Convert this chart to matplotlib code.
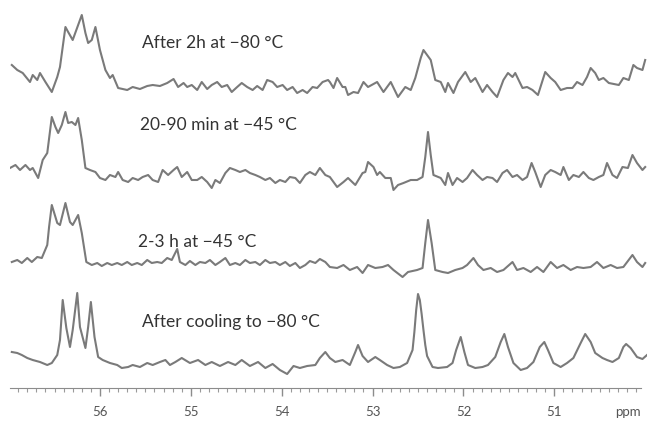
import numpy as np
import matplotlib.pyplot as plt
from matplotlib.ticker import FixedLocator

plt.rcParams['font.family'] = ['Lato', 'DejaVu Sans']

# 13C spectra, chemical shift (ppm) and intensity relative to each baseline
ppm_80_2h = [56.97, 56.91, 56.85, 56.77, 56.74, 56.69, 56.66, 56.60, 56.53, 56.47,
             56.44, 56.38, 56.35, 56.30, 56.24, 56.20, 56.16, 56.13, 56.09, 56.05,
             56.00, 55.94, 55.89, 55.86, 55.80, 55.70, 55.64, 55.56, 55.48, 55.42,
             55.34, 55.26, 55.19, 55.14, 55.08, 55.04, 54.99, 54.93, 54.88, 54.82,
             54.77, 54.71, 54.66, 54.60, 54.55, 54.49, 54.44, 54.38, 54.32, 54.27,
             54.21, 54.16, 54.10, 54.05, 53.99, 53.94, 53.88, 53.83, 53.77, 53.72,
             53.66, 53.61, 53.55, 53.49, 53.47, 53.43, 53.39, 53.33, 53.30, 53.27,
             53.21, 53.16, 53.10, 53.05, 52.95, 52.88, 52.80, 52.72, 52.64, 52.58,
             52.53, 52.47, 52.44, 52.36, 52.31, 52.25, 52.20, 52.17, 52.11, 52.06,
             51.98, 51.92, 51.87, 51.79, 51.74, 51.68, 51.63, 51.56, 51.51, 51.46,
             51.43, 51.35, 51.30, 51.24, 51.18, 51.10, 51.04, 50.99, 50.93, 50.86,
             50.80, 50.75, 50.69, 50.64, 50.60, 50.55, 50.51, 50.46, 50.40, 50.29,
             50.24, 50.18, 50.13, 50.09, 50.03, 50.00]
int_80_2h = [23, 18, 15, 6, 13, 8, 15, 6, -4, 11,
             21, 61, 56, 48, 63, 73, 55, 45, 48, 61,
             38, 18, 10, 13, 0, -2, 1, -1, 2, 3,
             2, 5, 9, 1, 5, 1, 3, -2, 6, -1,
             3, 6, 1, 3, -4, 1, 5, 1, -2, 2,
             -2, 8, 6, 1, 3, -2, 1, -5, -2, -5,
             1, 0, 6, 8, 6, 0, 10, 1, 1, -7,
             -4, -5, 6, 1, 6, -4, 6, -9, 1, -2,
             10, 30, 38, 28, 8, 6, -4, 5, -5, 6,
             16, 6, 10, -4, 3, -4, -9, 8, 15, 11,
             15, 0, 1, -2, -7, 16, 10, 6, -2, 0,
             0, 6, 3, 11, 20, 15, 8, 10, 5, 3,
             10, 8, 23, 20, 18, 28]

ppm_45_20min = [56.99, 56.93, 56.88, 56.82, 56.77, 56.74, 56.68, 56.63, 56.58, 56.53,
                56.49, 56.46, 56.42, 56.38, 56.35, 56.31, 56.27, 56.24, 56.20, 56.16,
                56.11, 56.05, 56.00, 55.94, 55.89, 55.83, 55.80, 55.75, 55.69, 55.64,
                55.58, 55.53, 55.47, 55.42, 55.36, 55.31, 55.25, 55.19, 55.15, 55.10,
                55.04, 54.99, 54.93, 54.88, 54.82, 54.77, 54.73, 54.68, 54.62, 54.57,
                54.51, 54.46, 54.40, 54.35, 54.29, 54.24, 54.18, 54.13, 54.07, 54.02,
                53.96, 53.91, 53.85, 53.80, 53.74, 53.69, 53.63, 53.58, 53.52, 53.47,
                53.39, 53.32, 53.27, 53.19, 53.11, 53.08, 53.05, 52.99, 52.95, 52.92,
                52.86, 52.80, 52.77, 52.72, 52.66, 52.58, 52.51, 52.45, 52.42, 52.39,
                52.36, 52.33, 52.25, 52.20, 52.17, 52.12, 52.07, 52.01, 51.96, 51.90,
                51.85, 51.79, 51.74, 51.68, 51.63, 51.57, 51.52, 51.46, 51.41, 51.35,
                51.30, 51.25, 51.21, 51.15, 51.10, 51.04, 50.99, 50.93, 50.90, 50.84,
                50.79, 50.73, 50.68, 50.62, 50.57, 50.51, 50.46, 50.42, 50.36, 50.31,
                50.25, 50.19, 50.14, 50.09, 50.03, 50.00]
int_45_20min = [10, 13, 8, 13, 8, 10, 0, 18, 25, 61,
                51, 45, 53, 66, 55, 56, 53, 60, 38, 10,
                8, 6, 0, -2, 3, 1, 6, -2, -4, 0,
                -2, 1, 3, -2, -4, 8, 3, 8, 11, 1,
                6, -2, -2, 1, -4, -10, -2, -5, 5, 10,
                8, 6, 8, 5, 3, 1, -2, 0, -5, -2,
                -4, 1, 0, -5, 3, 6, 3, 10, 3, 1,
                -9, -4, 0, -7, 5, 6, 16, 11, 3, 6,
                0, 0, -12, -7, -5, -2, -2, 1, 21, 46,
                23, 3, 0, -7, 5, -7, 0, -4, 0, 8,
                3, -2, 1, 0, -4, 5, 8, 1, 3, -2,
                1, 15, 6, -9, 3, 8, 6, 3, 11, -2,
                3, 1, 6, 0, -2, 1, 3, 15, 3, 0,
                11, 10, 23, 15, 8, 11]

ppm_45_2h = [56.97, 56.91, 56.86, 56.80, 56.75, 56.69, 56.64, 56.58, 56.56, 56.53,
             56.47, 56.44, 56.38, 56.33, 56.30, 56.24, 56.20, 56.15, 56.09, 56.03,
             55.98, 55.92, 55.87, 55.81, 55.76, 55.70, 55.65, 55.59, 55.54, 55.48,
             55.43, 55.37, 55.32, 55.26, 55.21, 55.15, 55.12, 55.06, 55.01, 54.95,
             54.90, 54.84, 54.79, 54.73, 54.68, 54.62, 54.57, 54.51, 54.46, 54.40,
             54.35, 54.29, 54.24, 54.18, 54.13, 54.07, 54.02, 53.96, 53.91, 53.85,
             53.80, 53.74, 53.69, 53.63, 53.58, 53.52, 53.47, 53.39, 53.32, 53.25,
             53.17, 53.11, 53.05, 52.97, 52.89, 52.83, 52.77, 52.67, 52.61, 52.51,
             52.45, 52.42, 52.39, 52.35, 52.31, 52.23, 52.17, 52.09, 52.01, 51.96,
             51.89, 51.84, 51.78, 51.70, 51.63, 51.56, 51.46, 51.41, 51.34, 51.26,
             51.19, 51.12, 51.04, 50.97, 50.90, 50.82, 50.75, 50.68, 50.60, 50.53,
             50.46, 50.38, 50.31, 50.24, 50.14, 50.09, 50.03, 50.00]
int_45_2h = [1, 3, 0, 5, 1, 6, 5, 18, 36, 58,
             40, 38, 60, 41, 38, 48, 30, 1, -2, 0,
             -3, 0, -2, 0, -2, 1, -2, 0, -2, 3,
             0, 1, 0, 5, 3, 14, 1, -2, 2, -2,
             1, 0, 3, -2, 1, 5, -2, 0, -2, 3,
             0, 1, -2, 3, 0, 1, -2, 1, -3, 0,
             -5, -2, 2, 0, 4, 1, -4, -5, -2, -7,
             -4, -10, -2, -5, -4, -2, -7, -14, -9, -7,
             -5, 20, 43, 20, -7, -9, -10, -7, -5, -2,
             5, -2, -7, -5, -9, -7, 1, -7, -5, -9,
             -4, -9, 1, -5, -2, -7, -4, -5, -4, 1,
             -5, -2, -5, -4, 8, 1, -4, 0]

ppm_80_cool = [56.97, 56.91, 56.86, 56.80, 56.74, 56.66, 56.58, 56.53, 56.47, 56.44,
               56.41, 56.37, 56.33, 56.30, 56.25, 56.22, 56.16, 56.13, 56.10, 56.06,
               56.02, 55.97, 55.89, 55.81, 55.76, 55.69, 55.64, 55.56, 55.48, 55.42,
               55.34, 55.28, 55.23, 55.17, 55.10, 55.01, 54.92, 54.84, 54.77, 54.68,
               54.59, 54.51, 54.44, 54.35, 54.26, 54.18, 54.10, 54.02, 53.94, 53.87,
               53.80, 53.72, 53.63, 53.58, 53.52, 53.47, 53.41, 53.33, 53.25, 53.19,
               53.16, 53.11, 53.05, 52.97, 52.92, 52.84, 52.77, 52.70, 52.62, 52.56,
               52.54, 52.52, 52.50, 52.48, 52.46, 52.44, 52.42, 52.40, 52.34, 52.28,
               52.18, 52.12, 52.08, 52.03, 51.99, 51.95, 51.87, 51.79, 51.73, 51.65,
               51.59, 51.55, 51.51, 51.45, 51.37, 51.30, 51.23, 51.16, 51.11, 51.07,
               51.01, 50.93, 50.86, 50.79, 50.71, 50.66, 50.60, 50.55, 50.47, 50.42,
               50.36, 50.29, 50.24, 50.21, 50.16, 50.09, 50.03, 49.98]
int_80_cool = [8, 7, 5, 2, 0, -2, -5, -3, 5, 20,
               60, 32, 13, 30, 67, 33, 12, 33, 58, 23,
               3, 0, -3, -5, -8, -7, -5, -7, -3, -5,
               -2, 0, -5, -2, 2, -3, 0, -5, -2, -6,
               -2, -5, 0, -6, -2, -8, -4, -10, -14, -6,
               -8, -6, -5, 2, 8, 2, -2, 0, -5, 8,
               15, 4, -2, 3, 0, -5, -8, -7, -3, 10,
               28, 50, 66, 60, 46, 30, 15, 4, -7, -8,
               -7, -3, 10, 23, 8, -5, -8, -7, -5, 3,
               18, 26, 13, -3, -10, -8, -2, 13, 18, 10,
               -3, -7, -3, 2, 17, 26, 18, 7, 2, 0,
               -2, 2, 13, 16, 12, 3, 1, 5]

labels = ['After 2h at \u221280 \u00b0C', '20-90 min at \u221245 \u00b0C',
          '2-3 h at \u221245 \u00b0C', 'After cooling to \u221280 \u00b0C']

# stacking offsets (baseline height of each trace) and label anchors
offsets = [300, 210, 125, 28]
label_xy = [(55.54, 345), (55.56, 263), (55.58, 146), (55.54, 66)]

fig = plt.figure(figsize=(6.47, 4.23), dpi=100)
ax = fig.add_axes([10 / 647, 35 / 423, 637 / 647, 388 / 423])

series = [(ppm_80_2h, int_80_2h), (ppm_45_20min, int_45_20min),
          (ppm_45_2h, int_45_2h), (ppm_80_cool, int_80_cool)]
for (x, y), off in zip(series, offsets):
    ax.plot(x, np.array(y) + off, color='#7a7a7a', lw=1.5, solid_joinstyle='round')

for text, (tx, ty) in zip(labels, label_xy):
    ax.text(tx, ty, text, fontsize=12.5, color='#333333', va='center', ha='left')

ax.set_xlim(56.99, 49.98)
ax.set_ylim(0, 388)

for side in ['top', 'left', 'right']:
    ax.spines[side].set_visible(False)
ax.spines['bottom'].set_color('#8c8c8c')
ax.spines['bottom'].set_bounds(50.05, 56.99)
ax.set_yticks([])

ax.xaxis.set_major_locator(FixedLocator([56, 55, 54, 53, 52, 51]))
ax.xaxis.set_minor_locator(FixedLocator(np.arange(50.1, 57.0, 0.1)))
ax.tick_params(axis='x', which='major', direction='out', length=6, width=1,
               color='#8c8c8c', labelcolor='#555555', labelsize=9.5, pad=7)
ax.tick_params(axis='x', which='minor', direction='out', length=3, width=0.8,
               color='#9a9a9a')
ax.text(50.19, -24, 'ppm', fontsize=9.5, color='#555555', ha='center', va='center',
        clip_on=False)

fig.savefig('out.png', dpi=100)
